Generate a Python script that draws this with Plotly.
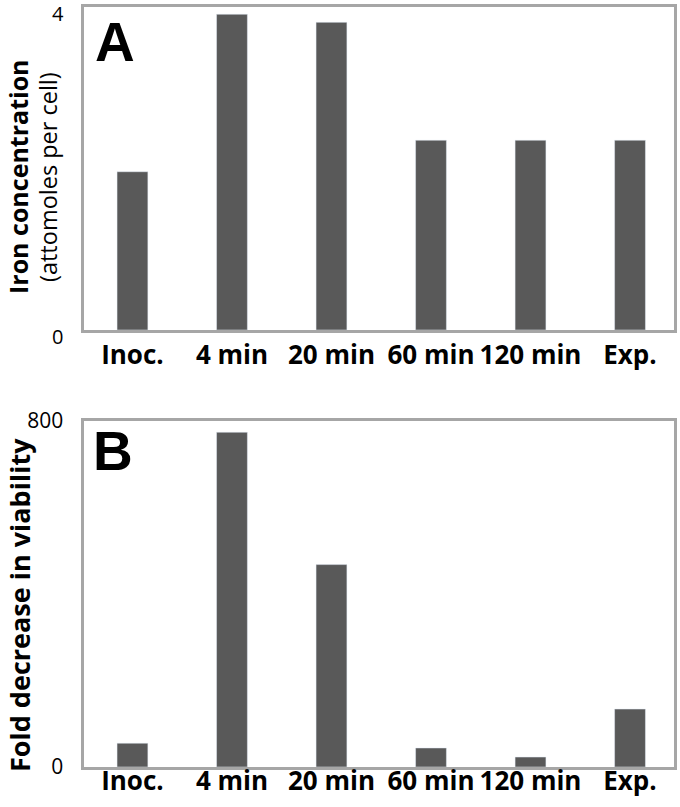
import plotly.graph_objects as go

categories = ["Inoc.", "4 min", "20 min", "60 min", "120 min", "Exp."]
iron_conc = [1.96, 3.91, 3.81, 2.35, 2.35, 2.35]
fold_decrease = [55, 774, 468, 44, 23, 134]

BAR = "#595959"
LINE = "#A6A6A6"
FONT = "Open Sans, sans-serif"
WIDE = "Liberation Sans, Arial, sans-serif"

fig = go.Figure()
fig.add_trace(go.Bar(x=categories, y=iron_conc, marker_color=BAR, width=0.31,
                     xaxis="x", yaxis="y", showlegend=False))
fig.add_trace(go.Bar(x=categories, y=fold_decrease, marker_color=BAR, width=0.31,
                     xaxis="x2", yaxis="y2", showlegend=False))

W, H = 680, 807
xdom = [83.5 / W, 673.5 / W]
ydomA = [1 - 330 / H, 1 - 7 / H]
ydomB = [1 - 767 / H, 1 - 421 / H]

common_x = dict(domain=xdom, range=[-0.492, 5.437], showline=True, linewidth=3, linecolor=LINE,
                mirror=True, ticks="", showgrid=False, zeroline=False,
                automargin=False, ticklabeloverflow="allow",
                tickfont=dict(family=FONT, size=26, color="black", weight="bold"))
common_y = dict(showline=True, linewidth=3, linecolor=LINE, mirror=True, ticks="",
                showgrid=False, zeroline=False, ticklabelstandoff=13, automargin=False,
                ticklabeloverflow="allow")

fig.update_layout(
    width=W, height=H,
    margin=dict(l=0, r=0, t=0, b=0, autoexpand=False),
    paper_bgcolor="white", plot_bgcolor="white",
    xaxis=dict(**common_x, anchor="y", ticklabelstandoff=0),
    yaxis=dict(**common_y, domain=ydomA, range=[0, 4], tickvals=[0, 4], anchor="x",
               ticklabelshift=7, tickfont=dict(family=FONT, size=20, color="black")),
    xaxis2=dict(**common_x, anchor="y2", ticklabelstandoff=-11),
    yaxis2=dict(**common_y, domain=ydomB, range=[0, 800], tickvals=[0, 800], anchor="x2",
                tickfont=dict(family=FONT, size=21, color="black")),
)

ann = [
    dict(text="<b>A</b>", x=115 / W, y=1 - 42 / H, xanchor="center", yanchor="middle",
         font=dict(family=WIDE, size=55, color="black")),
    dict(text="<b>B</b>", x=113 / W, y=1 - 451 / H, xanchor="center", yanchor="middle",
         font=dict(family=WIDE, size=55, color="black")),
    dict(text="<b>Iron concentration</b>", x=18 / W, y=1 - 177 / H, textangle=-90,
         xanchor="center", yanchor="middle", font=dict(family=FONT, size=25, color="black")),
    dict(text="(attomoles per cell)", x=48 / W, y=1 - 177 / H, textangle=-90,
         xanchor="center", yanchor="middle", font=dict(family=FONT, size=23.5, color="black")),
    dict(text="<b>Fold decrease in viability</b>", x=19 / W, y=1 - 605 / H, textangle=-90,
         xanchor="center", yanchor="middle", font=dict(family=FONT, size=27, color="black")),
]
for a in ann:
    a.update(xref="paper", yref="paper", showarrow=False)
fig.update_layout(annotations=ann)

fig.write_html(
    "out.html",
    config={"displayModeBar": False},
    post_script="document.body.style.margin='0';document.body.style.overflow='hidden';",
)
